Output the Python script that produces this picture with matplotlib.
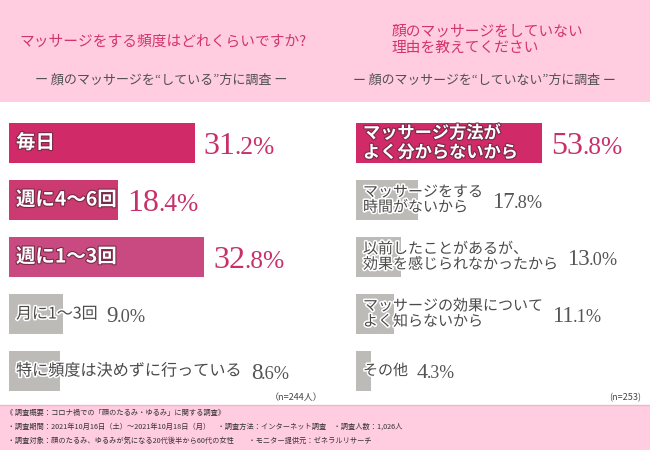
#!/usr/bin/env python3

import matplotlib
matplotlib.use("Agg")
import matplotlib.pyplot as plt
import matplotlib.patheffects as pe
from matplotlib.patches import Rectangle
from matplotlib.transforms import ScaledTranslation

plt.rcParams['font.family'] = ['Noto Sans CJK JP', 'DejaVu Sans']

# ---- Data ----
left_labels = ["毎日", "週に4〜6回", "週に1〜3回", "月に1〜3回", "特に頻度は決めずに行っている"]
left_values = [31.2, 18.4, 32.8, 9.0, 8.6]
left_colors = ["#D02A68", "#CB3A70", "#C94A80", "#BDBBB8", "#BDBBB8"]

right_labels = ["マッサージ方法が\nよく分からないから",
                "マッサージをする\n時間がないから",
                "以前したことがあるが、\n効果を感じられなかったから",
                "マッサージの効果について\nよく知らないから",
                "その他"]
right_values = [53.8, 17.8, 13.0, 11.1, 4.3]
right_colors = ["#D02A68", "#BDBBB8", "#BDBBB8", "#BDBBB8", "#BDBBB8"]

W, H = 650, 450
PINK_BG = "#FFCCE0"
TITLE_C = "#D2346E"
GREY_T = "#505050"

fig = plt.figure(figsize=(W / 100, H / 100), dpi=100)
fig.patch.set_facecolor("white")


def fx(x):
    return x / W


def fy(y):
    return 1 - y / H


# header and footer backgrounds
fig.patches.append(Rectangle((0, fy(102)), 1, 102 / H, transform=fig.transFigure,
                             facecolor=PINK_BG, edgecolor="none", zorder=0))
fig.patches.append(Rectangle((0, 0), 1, (H - 405) / H, transform=fig.transFigure,
                             facecolor=PINK_BG, edgecolor="none", zorder=0))
fig.lines.append(plt.Line2D([0, 1], [fy(405), fy(405)], transform=fig.transFigure,
                            color="#F4B4CC", lw=1))

# header texts
fig.text(fx(163), fy(42), "マッサージをする頻度はどれくらいですか?", color=TITLE_C,
         fontsize=10.6, ha="center", va="center")
fig.text(fx(161), fy(80), "ー 顔のマッサージを“している”方に調査 ー", color=GREY_T,
         fontsize=9.4, ha="center", va="center")
fig.text(fx(392), fy(40), "顔のマッサージをしていない\n理由を教えてください", color=TITLE_C,
         fontsize=10.6, ha="left", va="center", linespacing=1.2)
fig.text(fx(484), fy(80), "ー 顔のマッサージを“していない”方に調査 ー", color=GREY_T,
         fontsize=9.3, ha="center", va="center")

# ---- bar panels ----
row_px = 57
top_px = 143 - row_px / 2
ax_h = row_px * 5


def make_panel(left_px, width_px, px_per_pct, labels, values, colors,
               lab_sizes, val_sizes):
    ax = fig.add_axes([fx(left_px), fy(top_px + ax_h), width_px / W, ax_h / H])
    ax.set_xlim(0, width_px / px_per_pct)
    ax.set_ylim(4.5, -0.5)
    ax.axis("off")
    ypos = list(range(len(values)))
    ax.barh(ypos, values, height=40 / row_px, color=colors, edgecolor="none")
    shift = ax.transData + ScaledTranslation(7 / 100, 0, fig.dpi_scale_trans)
    texts = []
    for i, (lab, c) in enumerate(zip(labels, colors)):
        strong = c != "#BDBBB8"
        if strong:
            t = ax.text(0, i, lab, transform=shift, color="white", fontsize=lab_sizes[i],
                        fontweight="bold", va="center", ha="left", linespacing=1.1,
                        path_effects=[pe.withStroke(linewidth=1.6, foreground="#7a2a48")])
        else:
            t = ax.text(0, i, lab, transform=shift, color="#4a4a4a", fontsize=lab_sizes[i],
                        va="center", ha="left", linespacing=1.1,
                        path_effects=[pe.withStroke(linewidth=2.2, foreground="white")])
        texts.append((t, strong))
    fig.canvas.draw()
    r = fig.canvas.get_renderer()
    inv = ax.transData.inverted()
    for i, (t, strong) in enumerate(texts):
        bb = t.get_window_extent(r)
        bar_end = ax.transData.transform((values[i], i))[0]
        start = max(bb.x1, bar_end) + 9
        xd = inv.transform((start, 0))[0]
        col = "#C8306A" if strong else "#555555"
        size = val_sizes[i]
        drop = -0.33 * size  # baseline so that digits sit centred on the bar
        whole, frac = f"{values[i]:.1f}".split(".")
        t1 = ax.annotate(whole, xy=(xd, i), xycoords="data", xytext=(0, drop),
                         textcoords="offset points", family="Liberation Serif",
                         color=col, fontsize=size, va="baseline", ha="left")
        fig.canvas.draw()
        x2 = inv.transform((t1.get_window_extent(r).x1 - 1, 0))[0]
        ax.annotate(f".{frac}%", xy=(x2, i), xycoords="data", xytext=(0, drop),
                    textcoords="offset points", family="Liberation Serif",
                    color=col, fontsize=size * 0.8, va="baseline", ha="left")
    return ax


make_panel(9, 310, 5.95, left_labels, left_values, left_colors,
           [14, 14, 14, 11.5, 11.6], [23, 23, 23, 16.5, 16.5])
make_panel(356, 290, 3.46, right_labels, right_values, right_colors,
           [12.4, 10.8, 10.8, 10.8, 10.8], [23, 16.5, 16.5, 16.5, 16])

# sample sizes
fig.text(fx(322), fy(398), "（n=244人）", color="#444444", fontsize=6.5,
         ha="right", va="center")
fig.text(fx(641), fy(398), "(n=253)", color="#444444", fontsize=6.5,
         ha="right", va="center")

# footer
foot = ["《 調査概要：コロナ禍での「顔のたるみ・ゆるみ」に関する調査》",
        " ・調査期間：2021年10月16日（土）～2021年10月18日（月）　・調査方法：インターネット調査　・調査人数：1,026人",
        " ・調査対象：顔のたるみ、ゆるみが気になる20代後半から60代の女性　　・モニター提供元：ゼネラルリサーチ"]
for k, line in enumerate(foot):
    fig.text(fx(6), fy(413 + 14 * k), line, color="#333333", fontsize=5.2,
             ha="left", va="center")

fig.savefig("out.png", dpi=100)
